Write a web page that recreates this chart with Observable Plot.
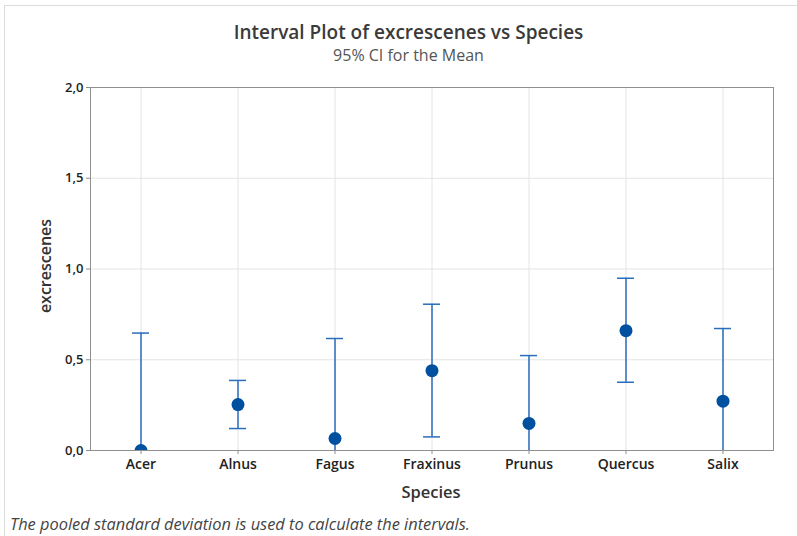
<!DOCTYPE html>
<html><head><meta charset="utf-8">
<script src="https://cdn.jsdelivr.net/npm/d3@7"></script>
<script src="https://cdn.jsdelivr.net/npm/@observablehq/plot@0.6"></script>
<style>
body{margin:0;background:#fff;font-family:"Open Sans","Noto Sans",sans-serif;}
#wrap{position:relative;width:797px;height:536px;overflow:hidden;}
#border{position:absolute;left:4px;top:5px;width:800px;height:600px;border:1px solid #dcdcdc;box-sizing:border-box;}
.t{position:absolute;white-space:nowrap;color:#333;}
#title{left:0;width:817px;text-align:center;top:19px;font-size:19px;font-weight:600;color:#3a3a3a;}
#sub{left:0;width:817px;text-align:center;top:44px;font-size:16px;color:#555;}
#ylab{left:45px;top:266px;transform:translate(-50%,-50%) rotate(-90deg);font-size:16px;font-weight:600;color:#333;}
#xlab{left:0;width:862px;text-align:center;top:480px;font-size:16.5px;font-weight:600;color:#333;}
#foot{left:10px;top:512px;font-size:16.4px;font-style:italic;color:#444;}
#chart{position:absolute;left:0;top:0;}
</style></head>
<body>
<div id="wrap">
<div id="border"></div>
<div id="chart"></div>
<div class="t" id="title">Interval Plot of excrescenes vs Species</div>
<div class="t" id="sub">95% CI for the Mean</div>
<div class="t" id="ylab">excrescenes</div>
<div class="t" id="xlab">Species</div>
<div class="t" id="foot">The pooled standard deviation is used to calculate the intervals.</div>
</div>
<script>
const species = ["Acer","Alnus","Fagus","Fraxinus","Prunus","Quercus","Salix"];
const means   = [0.0, 0.253, 0.066, 0.440, 0.149, 0.660, 0.272];
const upper   = [0.647, 0.386, 0.617, 0.806, 0.523, 0.949, 0.672];
const lower   = [-0.647, 0.121, -0.485, 0.075, -0.225, 0.376, -0.128];
const yTicks = [0, 0.5, 1.0, 1.5, 2.0];
const yTickLabels = ["0,0","0,5","1,0","1,5","2,0"];

const data = species.map((s,i)=>({species:s, mean:means[i], lo:lower[i], hi:upper[i]}));
const capInset = 40;
const barColor = "#2a6ebb";
const dotColor = "#0050a0";

const chart = Plot.plot({
  width: 797, height: 536,
  marginLeft: 90, marginRight: 24, marginTop: 87, marginBottom: 86,
  style: {fontFamily: '"Open Sans","Noto Sans",sans-serif', background: "transparent", color: "#222"},
  x: {type: "band", domain: species, padding: 0},
  y: {domain: [0, 2]},
  marks: [
    Plot.gridX(species, {stroke: "#e4e4e4", strokeOpacity: 1}),
    Plot.gridY(yTicks, {stroke: "#e4e4e4", strokeOpacity: 1}),
    Plot.frame({stroke: "#8f8f8f"}),
    Plot.axisY({ticks: yTicks, tickFormat: (d) => yTickLabels[yTicks.indexOf(d)], tickSize: 4, tickPadding: 3, label: null, fontSize: 13, fontWeight: 600, stroke: "#8f8f8f"}),
    Plot.axisX({tickSize: 4, tickPadding: 5, label: null, fontSize: 14, fontWeight: 600, stroke: "#8f8f8f"}),
    Plot.ruleX(data, {x: "species", y1: "lo", y2: "hi", stroke: barColor, strokeWidth: 1.5, clip: true}),
    Plot.tickY(data, {x: "species", y: "hi", stroke: barColor, strokeWidth: 1.5, insetLeft: capInset, insetRight: capInset, clip: true}),
    Plot.tickY(data, {x: "species", y: "lo", stroke: barColor, strokeWidth: 1.5, insetLeft: capInset, insetRight: capInset, clip: true}),
    Plot.dot(data, {x: "species", y: "mean", r: 6.5, fill: dotColor, stroke: "none", clip: true})
  ]
});
document.getElementById("chart").appendChild(chart);
</script>
</body></html>
